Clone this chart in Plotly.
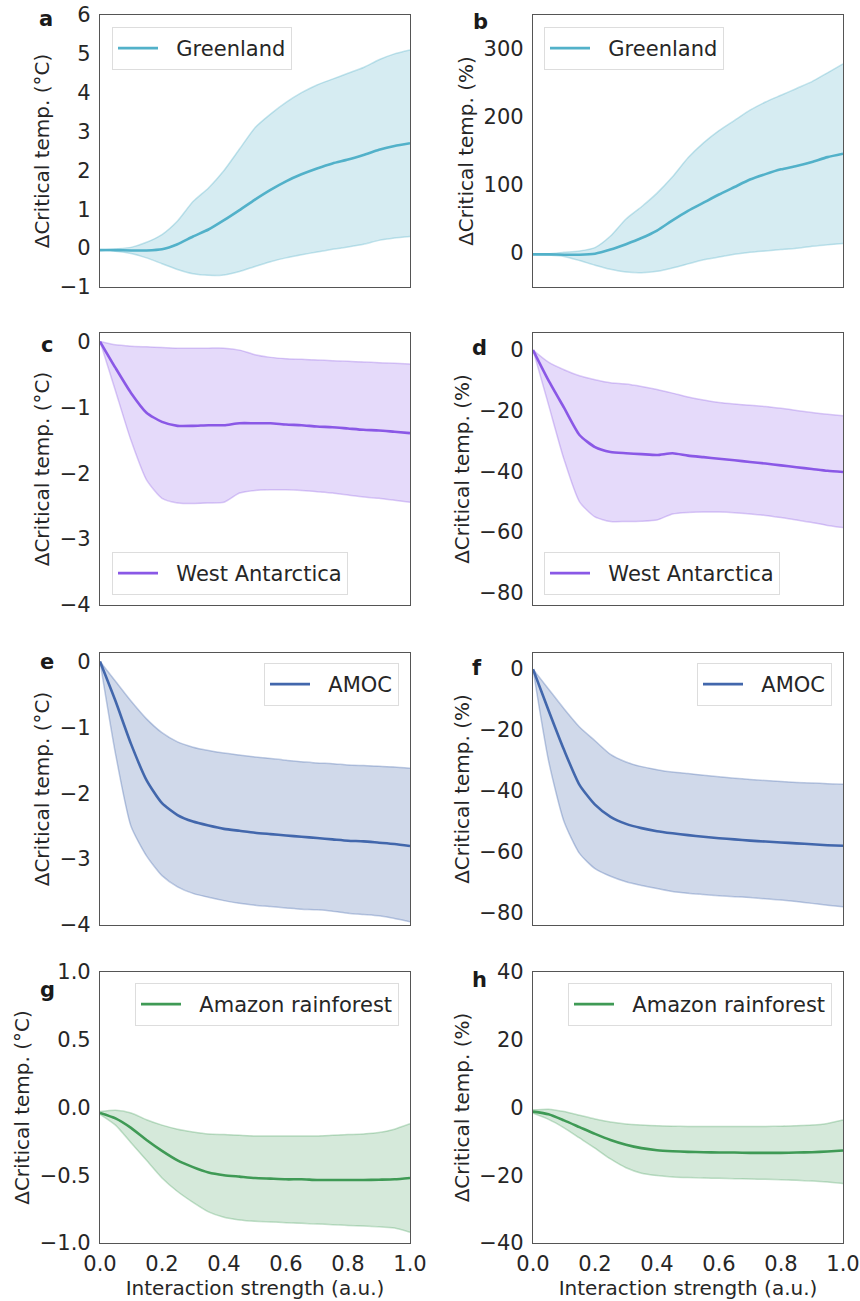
import plotly.graph_objects as go

# Remove the page's default body margin so the figure fills the window exactly.
OFF = 0
W, H = 860 - OFF, 1301 - OFF

X = [0.0, 0.05, 0.1, 0.15, 0.2, 0.25, 0.3, 0.35, 0.4, 0.45, 0.5,
     0.55, 0.6, 0.65, 0.7, 0.75, 0.8, 0.85, 0.9, 0.95, 1.0]

# Greenland (°C)
a_mean = [-0.05, -0.05, -0.06, -0.06, -0.03, 0.1, 0.3, 0.48, 0.72, 0.98, 1.25,
          1.5, 1.72, 1.9, 2.05, 2.18, 2.28, 2.4, 2.53, 2.63, 2.7]
a_up = [-0.05, -0.02, 0.02, 0.15, 0.35, 0.7, 1.2, 1.55, 2.0, 2.55, 3.1,
        3.45, 3.75, 4.0, 4.2, 4.35, 4.5, 4.65, 4.85, 5.0, 5.1]
a_lo = [-0.05, -0.08, -0.14, -0.25, -0.4, -0.55, -0.66, -0.7, -0.69, -0.6, -0.47,
        -0.35, -0.25, -0.17, -0.1, -0.03, 0.03, 0.1, 0.2, 0.26, 0.3]
# Greenland (%)
b_mean = [-2, -2, -2.5, -2.5, -1, 5, 13, 22, 33, 48, 62,
          74, 86, 97, 108, 116, 123, 128, 134, 141, 146]
b_up = [-2, -1, 1, 3, 8, 25, 50, 68, 88, 112, 140,
        162, 180, 195, 210, 222, 232, 242, 252, 265, 278]
b_lo = [-2, -3, -5, -11, -18, -24, -28, -29, -27, -22, -16,
        -10, -6, -2, 1, 3, 5, 7, 10, 12, 14]
# West Antarctica (°C)
c_mean = [0, -0.4, -0.78, -1.08, -1.22, -1.28, -1.28, -1.27, -1.27, -1.24, -1.24,
          -1.24, -1.26, -1.27, -1.29, -1.3, -1.32, -1.34, -1.35, -1.37, -1.39]
c_up = [0, -0.05, -0.07, -0.08, -0.09, -0.1, -0.1, -0.1, -0.1, -0.13, -0.2,
        -0.24, -0.26, -0.27, -0.28, -0.29, -0.3, -0.31, -0.32, -0.33, -0.34]
c_lo = [0, -0.75, -1.5, -2.1, -2.38, -2.45, -2.46, -2.45, -2.44, -2.3, -2.26,
        -2.25, -2.25, -2.26, -2.28, -2.3, -2.33, -2.36, -2.38, -2.41, -2.44]
# West Antarctica (%)
d_mean = [0, -10, -19, -28, -32, -33.6, -34, -34.3, -34.6, -34, -34.8,
          -35.3, -35.8, -36.3, -36.9, -37.4, -38, -38.6, -39.2, -39.8, -40.2]
d_up = [0, -4, -6.5, -8.5, -9.8, -10.8, -11.2, -12, -13, -14.2, -15.5,
        -16.5, -17.3, -17.8, -18.2, -18.6, -19.2, -19.9, -20.6, -21.2, -21.7]
d_lo = [0, -18, -36, -50, -55, -56.5, -56.5, -56.4, -56, -54, -53.5,
        -53.4, -53.4, -53.6, -54, -54.5, -55.2, -56, -56.8, -57.8, -58.5]
# AMOC (°C)
e_mean = [0, -0.6, -1.25, -1.8, -2.15, -2.33, -2.43, -2.49, -2.54, -2.57, -2.6,
          -2.62, -2.64, -2.66, -2.68, -2.7, -2.72, -2.73, -2.75, -2.77, -2.8]
e_up = [0, -0.3, -0.6, -0.87, -1.08, -1.22, -1.3, -1.35, -1.39, -1.42, -1.45,
        -1.47, -1.5, -1.52, -1.54, -1.55, -1.57, -1.58, -1.59, -1.6, -1.62]
e_lo = [0, -1.4, -2.5, -2.95, -3.25, -3.42, -3.52, -3.58, -3.63, -3.67, -3.7,
        -3.72, -3.74, -3.76, -3.77, -3.79, -3.82, -3.84, -3.86, -3.9, -3.95]
# AMOC (%)
f_mean = [0, -13.5, -26.5, -38, -44.5, -48.5, -50.8, -52.2, -53.2, -53.9, -54.5,
          -55, -55.5, -55.9, -56.3, -56.6, -56.9, -57.2, -57.5, -57.8, -58]
f_up = [0, -6.5, -13, -19, -23.5, -28, -30.5, -32, -33, -33.8, -34.3,
        -34.8, -35.3, -35.8, -36.2, -36.6, -36.9, -37.2, -37.4, -37.6, -37.8]
f_lo = [0, -30, -50, -60.5, -65.5, -68, -69.8, -71, -72, -73, -73.6,
        -74, -74.4, -74.7, -75, -75.4, -75.8, -76.3, -76.9, -77.5, -78]
# Amazon rainforest (°C)
g_mean = [-0.04, -0.08, -0.15, -0.24, -0.32, -0.39, -0.44, -0.48, -0.5, -0.51, -0.52,
          -0.525, -0.53, -0.53, -0.535, -0.535, -0.535, -0.535, -0.533, -0.53, -0.52]
g_up = [-0.03, -0.02, -0.04, -0.09, -0.13, -0.16, -0.18, -0.195, -0.2, -0.205, -0.21,
        -0.21, -0.21, -0.21, -0.21, -0.205, -0.2, -0.195, -0.185, -0.16, -0.12]
g_lo = [-0.05, -0.13, -0.26, -0.39, -0.52, -0.62, -0.7, -0.77, -0.81, -0.83, -0.84,
        -0.845, -0.85, -0.855, -0.86, -0.865, -0.87, -0.875, -0.88, -0.89, -0.92]
# Amazon rainforest (%)
h_mean = [-1.2, -2, -3.8, -5.8, -7.8, -9.6, -11, -12, -12.6, -12.9, -13.1,
          -13.2, -13.3, -13.3, -13.4, -13.4, -13.4, -13.3, -13.2, -13, -12.7]
h_up = [-0.7, -0.5, -1.2, -2.3, -3.4, -4.3, -4.9, -5.2, -5.4, -5.5, -5.6,
        -5.6, -5.6, -5.6, -5.6, -5.6, -5.5, -5.4, -5.2, -4.7, -3.7]
h_lo = [-1.7, -3.5, -6, -9, -12, -15.2, -17.8, -19.4, -20.1, -20.5, -20.7,
        -20.8, -20.9, -21, -21.1, -21.2, -21.3, -21.5, -21.7, -22, -22.4]

names = ["Greenland", "West Antarctica", "AMOC", "Amazon rainforest"]
letters = ["a", "b", "c", "d", "e", "f", "g", "h"]
y_titles = ["ΔCritical temp. (°C)", "ΔCritical temp. (%)"]
x_ticks = [0.0, 0.2, 0.4, 0.6, 0.8, 1.0]
x_ticktext = ["0.0", "0.2", "0.4", "0.6", "0.8", "1.0"]

panels = [
    (a_mean, a_up, a_lo), (b_mean, b_up, b_lo),
    (c_mean, c_up, c_lo), (d_mean, d_up, d_lo),
    (e_mean, e_up, e_lo), (f_mean, f_up, f_lo),
    (g_mean, g_up, g_lo), (h_mean, h_up, h_lo),
]
y_ranges = [[-1, 6], [-50, 350], [-4, 0.13], [-84, 5.6],
            [-4, 0.13], [-84, 5.3], [-1, 1], [-40, 40]]
y_tickvals = [[-1, 0, 1, 2, 3, 4, 5, 6], [0, 100, 200, 300],
              [-4, -3, -2, -1, 0], [-80, -60, -40, -20, 0],
              [-4, -3, -2, -1, 0], [-80, -60, -40, -20, 0],
              [-1.0, -0.5, 0.0, 0.5, 1.0], [-40, -20, 0, 20, 40]]
y_tickformat = ["d", "d", "d", "d", "d", "d", ".1f", "d"]

line_colors = ["#52b1c9", "#8a58e6", "#4267ac", "#3f9a55"]
fill_colors = ["rgba(82,177,201,0.24)", "rgba(138,88,230,0.22)",
               "rgba(66,103,172,0.25)", "rgba(63,154,85,0.22)"]
edge_colors = ["rgba(82,177,201,0.33)", "rgba(138,88,230,0.30)",
               "rgba(66,103,172,0.33)", "rgba(63,154,85,0.30)"]

# layout geometry (screen pixels)
x_dom_px = [(100, 410), (533, 843)]
y_dom_px = [(15, 287), (333, 605), (653, 925), (972, 1243)]

# legend boxes: (x, y, anchor)
legend_pos = [(112, 27, "lt"), (544, 27, "lt"),
              (112, 595, "lb"), (544, 595, "lb"),
              (399, 663, "rt"), (832, 663, "rt"),
              (399, 983, "rt"), (832, 983, "rt")]
letter_pos = [(46, 19), (480, 22), (47, 345), (479, 348),
              (47, 662), (477, 668), (47, 990), (479, 980)]


def px_x(p):
    return (p - OFF) / W


def px_y(p):
    return 1 - (p - OFF) / H


FONT = "DejaVu Sans"
TXT = "#262626"
fig = go.Figure()
layout = dict(width=W, height=H, margin=dict(l=0, r=0, t=0, b=0),
              plot_bgcolor="white", paper_bgcolor="white",
              font=dict(family=FONT, size=20, color=TXT), annotations=[])

for i, (mean, up, lo) in enumerate(panels):
    row, col = divmod(i, 2)
    k = i + 1
    xa = "x" if k == 1 else f"x{k}"
    ya = "y" if k == 1 else f"y{k}"
    lg = "legend" if k == 1 else f"legend{k}"
    lc, fc, ec = line_colors[row], fill_colors[row], edge_colors[row]
    fig.add_trace(go.Scatter(x=X, y=up, mode="lines",
                             line=dict(color=ec, width=1.5, shape="spline", smoothing=0.6),
                             showlegend=False, xaxis=xa, yaxis=ya, hoverinfo="skip"))
    fig.add_trace(go.Scatter(x=X, y=lo, mode="lines",
                             line=dict(color=ec, width=1.5, shape="spline", smoothing=0.6),
                             fill="tonexty", fillcolor=fc,
                             showlegend=False, xaxis=xa, yaxis=ya, hoverinfo="skip"))
    fig.add_trace(go.Scatter(x=X, y=mean, mode="lines",
                             line=dict(color=lc, width=2.6, shape="spline", smoothing=0.6),
                             name="  " + names[row], showlegend=True, legend=lg,
                             xaxis=xa, yaxis=ya))

    x0, x1 = x_dom_px[col]
    y0, y1 = y_dom_px[row]
    bottom = row == 3
    layout["xaxis" if k == 1 else f"xaxis{k}"] = dict(
        domain=[px_x(x0), px_x(x1)], anchor=ya, range=[0, 1], automargin=False,
        showgrid=False, zeroline=False, showline=True, mirror=True,
        linecolor="#555555", linewidth=1.2,
        tickvals=x_ticks, ticktext=x_ticktext, showticklabels=bottom,
        ticks="", ticklabelstandoff=2, ticklabeloverflow="allow",
        tickfont=dict(size=21, color=TXT),
        title=dict(text="Interaction strength (a.u.)" if bottom else "",
                   font=dict(size=20, color=TXT), standoff=2),
    )
    layout["yaxis" if k == 1 else f"yaxis{k}"] = dict(
        domain=[px_y(y1), px_y(y0)], anchor=xa, range=y_ranges[i],
        automargin=False,
        showgrid=False, zeroline=False, showline=True, mirror=True,
        linecolor="#555555", linewidth=1.2,
        tickvals=y_tickvals[i], tickformat=y_tickformat[i], ticks="",
        ticklabelstandoff=4, ticklabeloverflow="allow",
        tickfont=dict(size=21, color=TXT),
        title=dict(text=y_titles[col], font=dict(size=20, color=TXT), standoff=4),
    )
    lx, ly, anc = legend_pos[i]
    xanchor = "left" if anc[0] == "l" else "right"
    yanchor = "top" if anc[1] == "t" else "bottom"
    layout[lg] = dict(x=px_x(lx), y=px_y(ly), xanchor=xanchor, yanchor=yanchor,
                      xref="paper", yref="paper",
                      bgcolor="white", bordercolor="#dddddd", borderwidth=1,
                      font=dict(size=21, color=TXT), itemwidth=40,
                      tracegroupgap=0)
    tx, ty = letter_pos[i]
    layout["annotations"].append(dict(
        x=px_x(tx), y=px_y(ty), xref="paper", yref="paper", text=f"<b>{letters[i]}</b>",
        showarrow=False, xanchor="center", yanchor="middle",
        font=dict(size=21, color="#1a1a1a")))

fig.update_layout(**layout)
fig.write_html("out.html", config={"displayModeBar": False},
               post_script="document.body.style.margin='0';")
